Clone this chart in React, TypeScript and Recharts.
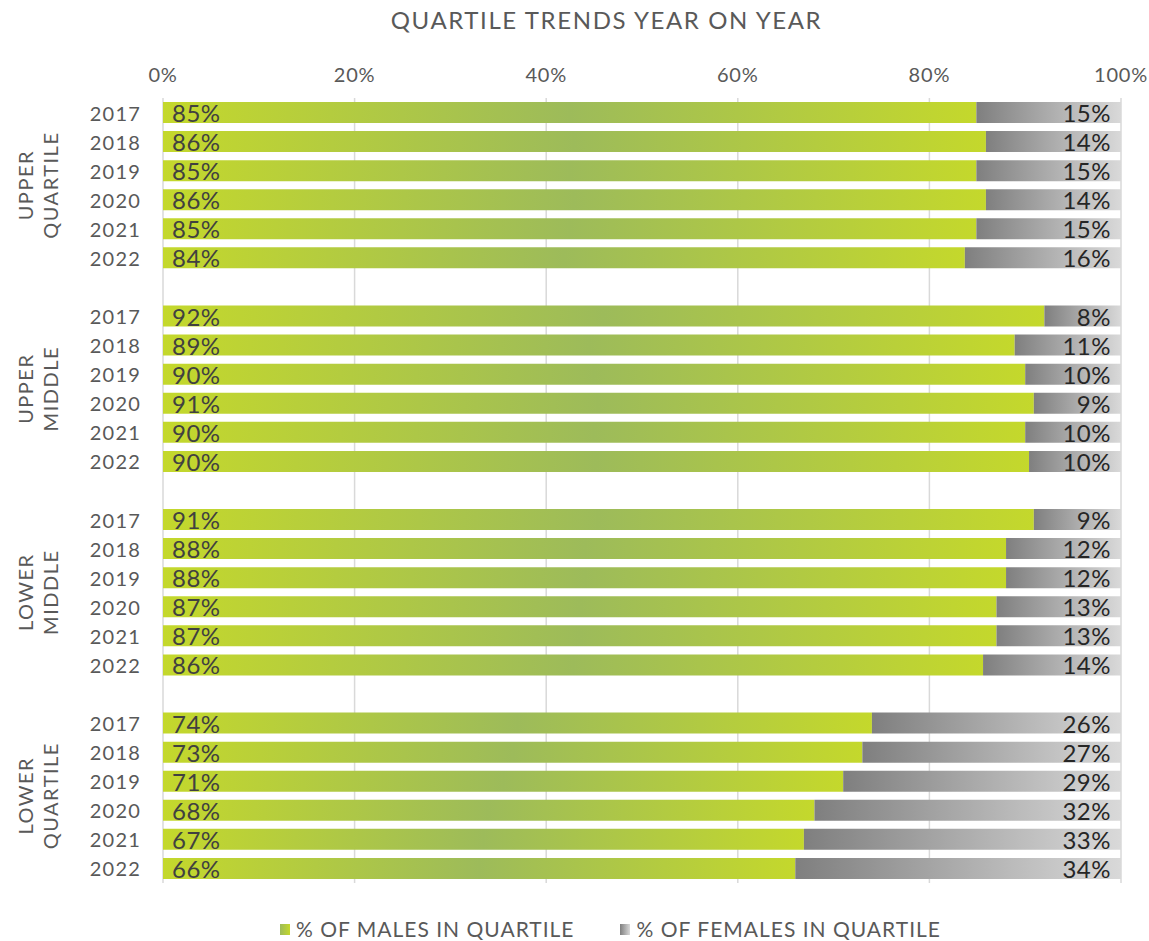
import { Bar, BarChart, CartesianGrid, LabelList, Legend, XAxis, YAxis } from 'recharts'

const groups = ['UPPER QUARTILE', 'UPPER MIDDLE', 'LOWER MIDDLE', 'LOWER QUARTILE']
const years = ['2017', '2018', '2019', '2020', '2021', '2022']
const percentTicks = [0, 20, 40, 60, 80, 100]

// % of males per year, one list per quartile
const malesUpperQuartile = [84.9, 85.9, 84.9, 85.9, 84.9, 83.7]
const malesUpperMiddle = [92.0, 88.9, 90.0, 90.9, 90.0, 90.4]
const malesLowerMiddle = [90.9, 88.0, 88.0, 87.0, 87.0, 85.6]
const malesLowerQuartile = [74.0, 73.0, 71.0, 68.0, 66.9, 66.0]

const femalesUpperQuartile = [15.1, 14.1, 15.1, 14.1, 15.1, 16.3]
const femalesUpperMiddle = [8.0, 11.1, 10.0, 9.1, 10.0, 9.6]
const femalesLowerMiddle = [9.1, 12.0, 12.0, 13.0, 13.0, 14.4]
const femalesLowerQuartile = [26.0, 27.0, 29.0, 32.0, 33.1, 34.0]

const males = [malesUpperQuartile, malesUpperMiddle, malesLowerMiddle, malesLowerQuartile]
const females = [femalesUpperQuartile, femalesUpperMiddle, femalesLowerMiddle, femalesLowerQuartile]

type Row = { key: string; year: string; group: string; male: number | null; female: number | null }

const rows: Row[] = []
groups.forEach((group, gi) => {
  if (gi > 0) rows.push({ key: `gap-${gi}`, year: '', group: '', male: null, female: null })
  years.forEach((year, yi) => {
    rows.push({ key: `${group}|${year}`, year, group, male: males[gi][yi], female: females[gi][yi] })
  })
})

const FONT = 'Lato, "DejaVu Sans", sans-serif'
const GREY_TEXT = '#595959'

function YearTick(props: any) {
  const { x, y, payload } = props
  const value: string = payload.value
  if (value.startsWith('gap')) return null
  const [group, year] = value.split('|')
  const words = group.split(' ')
  return (
    <g>
      <text x={x} y={y} textAnchor="end" dominantBaseline="central" fontSize={20} letterSpacing={1.2} fill={GREY_TEXT} fontFamily={FONT}>
        {year}
      </text>
      {year === '2019' &&
        words.map((w, i) => (
          <text
            key={w}
            x={0}
            y={0}
            transform={`translate(${25 + i * 25}, ${y + 14.5}) rotate(-90)`}
            textAnchor="middle"
            dominantBaseline="central"
            fontSize={20}
            letterSpacing={1.5}
            fill={GREY_TEXT}
            fontFamily={FONT}
          >
            {w}
          </text>
        ))}
    </g>
  )
}

function MaleLabel(props: any) {
  const { x, y, height, value } = props
  if (value == null) return null
  return (
    <text x={x + 9} y={y + height / 2} dominantBaseline="central" fontSize={24} letterSpacing={0.5} fill="#404040" fontFamily={FONT}>
      {`${Math.round(value)}%`}
    </text>
  )
}

function FemaleLabel(props: any) {
  const { x, y, width, height, value } = props
  if (value == null) return null
  return (
    <text x={x + width - 10} y={y + height / 2} textAnchor="end" dominantBaseline="central" fontSize={24} letterSpacing={0.5} fill="#262626" fontFamily={FONT}>
      {`${Math.round(value)}%`}
    </text>
  )
}

function LegendContent() {
  const items = [
    { label: '% OF MALES IN QUARTILE', bg: 'linear-gradient(to right, #9dbb5a, #c4d82c)' },
    { label: '% OF FEMALES IN QUARTILE', bg: 'linear-gradient(to right, #7f7f7f, #d9d9d9)' },
  ]
  return (
    <div style={{ display: 'flex', justifyContent: 'center', gap: 46, paddingLeft: 100, fontFamily: FONT, fontSize: 21, letterSpacing: 1, color: GREY_TEXT, lineHeight: '24px' }}>
      {items.map((it) => (
        <div key={it.label} style={{ display: 'flex', alignItems: 'center', gap: 6 }}>
          <span style={{ display: 'inline-block', width: 10, height: 11, background: it.bg }} />
          <span>{it.label}</span>
        </div>
      ))}
    </div>
  )
}

export default function App() {
  return (
    <div style={{ position: 'absolute', left: 0, top: 0, width: 1149, height: 941, background: '#fff' }}>
      <div style={{ position: 'absolute', top: 5, left: 64, right: 0, textAlign: 'center', fontFamily: FONT, fontSize: 24, letterSpacing: 1.6, color: GREY_TEXT }}>
        QUARTILE TRENDS YEAR ON YEAR
      </div>
      <BarChart
        width={1149}
        height={941}
        data={rows}
        layout="vertical"
        margin={{ top: 68, right: 28, bottom: 34, left: 0 }}
        barCategoryGap={4}
      >
        <defs>
          <linearGradient id="maleGrad" x1="0" y1="0" x2="1" y2="0">
            <stop offset="0%" stopColor="#c4d82c" />
            <stop offset="50%" stopColor="#9dbb5a" />
            <stop offset="100%" stopColor="#c4d82c" />
          </linearGradient>
          <linearGradient id="femaleGrad" x1="0" y1="0" x2="1" y2="0">
            <stop offset="0%" stopColor="#7f7f7f" />
            <stop offset="100%" stopColor="#d9d9d9" />
          </linearGradient>
        </defs>
        <CartesianGrid horizontal={false} stroke="#d9d9d9" strokeWidth={1.5} />
        <XAxis
          type="number"
          orientation="top"
          domain={[0, 100]}
          ticks={percentTicks}
          tickFormatter={(v: number) => `${v}%`}
          axisLine={false}
          tickLine={false}
          tickSize={0}
          tickMargin={16}
          height={30}
          tick={{ fontSize: 20, fill: GREY_TEXT, fontFamily: FONT, letterSpacing: 0.8 }}
        />
        <YAxis
          type="category"
          dataKey="key"
          width={163}
          axisLine={false}
          tickLine={false}
          tickSize={0}
          tickMargin={22}
          interval={0}
          tick={<YearTick />}
        />
        <Legend verticalAlign="bottom" content={<LegendContent />} wrapperStyle={{ bottom: 0 }} />
        <Bar dataKey="male" stackId="a" fill="url(#maleGrad)" isAnimationActive={false}>
          <LabelList dataKey="male" content={<MaleLabel />} />
        </Bar>
        <Bar dataKey="female" stackId="a" fill="url(#femaleGrad)" isAnimationActive={false}>
          <LabelList dataKey="female" content={<FemaleLabel />} />
        </Bar>
      </BarChart>
    </div>
  )
}
